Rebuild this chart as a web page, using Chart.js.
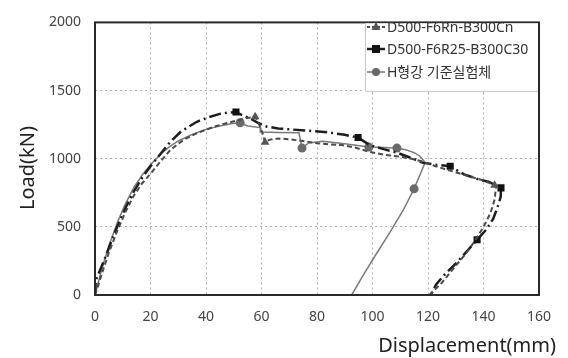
<!DOCTYPE html>
<html>
<head>
<meta charset="utf-8">
<script src="https://cdn.jsdelivr.net/npm/chart.js@4/dist/chart.umd.min.js"></script>
<style>
html,body{margin:0;padding:0;background:#fff;}
#wrap{position:relative;width:568px;height:358px;}
</style>
</head>
<body>
<div id="wrap"><canvas id="c" width="568" height="358"></canvas></div>
<script>
// ---- data ----
const xTicks = [0, 20, 40, 60, 80, 100, 120, 140, 160];
const yTicks = [0, 500, 1000, 1500, 2000];

const triLabel = 'D500-F6Rn-B300Cn';
const triX = [0,1,3,5,8,11,14,17,20,24, 27,30,33,36,39,43,47.6,51,54,57.7, 59,60.5,61.3,63,66,70,75,80,85,89, 94,99,104,110,114,118,122,126,130,135, 140,144,144.5,144,142.5,140,137,133.5,129,125, 120.5];
const triY = [0,60,190,310,470,610,730,820,890,990, 1060,1110,1150,1180,1205,1235,1262,1280,1295,1307, 1260,1180,1121,1140,1148,1143,1130,1114,1105,1100, 1080,1050,1030,1014,1000,979,950,925,900,870, 840,805,790,700,600,500,400,300,190,90, 0];
const triMarks = [19, 22, 41];

const sqLabel = 'D500-F6R25-B300C30';
const sqX = [0,0.3,2,4,6,8,11,14,17,20, 24,27,31,36.7,41,45,48,50.8,53,56, 59,62,66,71,78,84,90,94.8,99,104, 109,114,118,123,128,133,138,142,146.3,146.2, 145,143.5,141,137.7,134,130,126,123,121];
const sqY = [0,110,190,290,400,500,640,760,860,945, 1045,1121,1200,1271,1305,1329,1338,1343,1320,1295, 1260,1235,1222,1214,1203,1193,1175,1155,1100,1070, 1043,1005,971,955,945,885,850,830,786,720, 640,560,480,406,320,230,150,80,0];
const sqMarks = [17, 27, 34, 38, 43];

const ciLabel = 'H형강 기준실험체';
const ciX = [0,1,3,5,8,11,14,17,20,24, 27,30,35,40,45,49,52.3,55,59.5,59.6, 66,73.5,74.6,77,82,90,98.7,104,108.8,112, 115,117,118.5,118.7,117.5,115,111,106,101,96.5, 92.5];
const ciY = [0,80,230,360,530,670,790,880,955,1040, 1090,1130,1178,1215,1240,1257,1264,1240,1228,1195, 1192,1190,1078,1115,1128,1110,1085,1082,1078,1065, 1045,1020,985,960,900,779,620,450,290,140, 0];
const ciMarks = [16, 22, 26, 28, 35];

const xTitle = 'Displacement(mm)';
const yTitle = 'Load(kN)';

function pts(xs, ys) { return xs.map((x, i) => ({x: x, y: ys[i]})); }
function radiusFor(marks, r) { return ctx => marks.includes(ctx.dataIndex) ? r : 0; }

const FONT = "'Noto Sans','Noto Sans CJK KR',sans-serif";

const datasets = [
  {label: triLabel, data: pts(triX, triY), borderColor: '#4a4a4a', backgroundColor: '#555',
   borderWidth: 2, borderDash: [5, 3], pointStyle: 'triangle',
   pointRadius: radiusFor(triMarks, 5), pointBorderWidth: 0, pointHoverRadius: 0},
  {label: sqLabel, data: pts(sqX, sqY), borderColor: '#1e1e1e', backgroundColor: '#111',
   borderWidth: 2.5, borderDash: [12, 4, 2, 4], pointStyle: 'rect',
   pointRadius: radiusFor(sqMarks, 5), pointBorderWidth: 0, pointHoverRadius: 0},
  {label: ciLabel, data: pts(ciX, ciY), borderColor: '#7a7a7a', backgroundColor: '#6a6a6a',
   borderWidth: 1.5, borderDash: [], pointStyle: 'circle',
   pointRadius: radiusFor(ciMarks, 4.5), pointBorderWidth: 0, pointHoverRadius: 0}
];

const decor = {
  id: 'decor',
  afterDraw(chart) {
    const {ctx, chartArea: a} = chart;
    ctx.save();
    // frame
    ctx.strokeStyle = '#2a2a2a';
    ctx.lineWidth = 2;
    ctx.setLineDash([]);
    ctx.strokeRect(a.left, a.top, a.right - a.left, a.bottom - a.top);
    // legend box
    const lx = 365, ly = a.top + 1, lw = a.right - 1 - lx, lh = 68;
    ctx.fillStyle = '#fff';
    ctx.fillRect(lx, ly, lw, lh);
    ctx.strokeStyle = '#c8c8c8';
    ctx.lineWidth = 1;
    ctx.beginPath();
    ctx.moveTo(lx + 0.5, ly); ctx.lineTo(lx + 0.5, ly + lh);
    ctx.lineTo(a.right - 1, ly + lh);
    ctx.stroke();
    const rows = [27, 49, 72];
    chart.data.datasets.forEach((ds, i) => {
      const cy = rows[i];
      ctx.save();
      ctx.strokeStyle = ds.borderColor;
      ctx.lineWidth = ds.borderWidth;
      ctx.setLineDash(i === 0 ? [3, 2] : []);
      ctx.beginPath(); ctx.moveTo(367, cy); ctx.lineTo(385, cy); ctx.stroke();
      ctx.setLineDash([]);
      ctx.fillStyle = ds.backgroundColor;
      ctx.beginPath();
      if (ds.pointStyle === 'triangle') {
        ctx.moveTo(376, cy - 5); ctx.lineTo(380.5, cy + 3); ctx.lineTo(371.5, cy + 3); ctx.closePath();
      } else if (ds.pointStyle === 'rect') {
        ctx.rect(372, cy - 4, 8, 8);
      } else {
        ctx.arc(376, cy, 4, 0, Math.PI * 2);
      }
      ctx.fill();
      ctx.restore();
      ctx.fillStyle = '#333';
      ctx.font = "14px " + FONT;
      ctx.textBaseline = 'middle';
      ctx.textAlign = 'left';
      ctx.fillText(ds.label, 387, cy + 1);
    });
    // axis titles
    ctx.fillStyle = '#222';
    ctx.font = "20px " + FONT;
    ctx.textAlign = 'right';
    ctx.textBaseline = 'alphabetic';
    ctx.fillText(xTitle, 556, 352);
    ctx.save();
    ctx.translate(34, 168);
    ctx.rotate(-Math.PI / 2);
    ctx.textAlign = 'center';
    ctx.fillText(yTitle, 0, 0);
    ctx.restore();
    ctx.restore();
  }
};

new Chart(document.getElementById('c'), {
  type: 'scatter',
  data: {datasets: datasets},
  options: {
    responsive: false,
    animation: false,
    events: [],
    showLine: true,
    elements: {line: {tension: 0, fill: false}},
    layout: {padding: {top: 15, right: 29, left: 0, bottom: 0}},
    plugins: {legend: {display: false}, tooltip: {enabled: false}},
    scales: {
      x: {
        type: 'linear', min: 0, max: 160,
        afterBuildTicks: s => { s.ticks = xTicks.map(v => ({value: v})); },
        afterFit: s => { s.height = 63; },
        grid: {color: '#b0b0b0', lineWidth: 1, drawTicks: false},
        border: {display: false, dash: [2, 3]},
        ticks: {padding: 14, color: '#444', font: {family: FONT, size: 14}, maxRotation: 0,
                callback: v => String(v)}
      },
      y: {
        type: 'linear', min: 0, max: 2000,
        afterBuildTicks: s => { s.ticks = yTicks.map(v => ({value: v})); },
        afterFit: s => { s.width = 95; },
        grid: {color: '#b0b0b0', lineWidth: 1, drawTicks: false},
        border: {display: false, dash: [2, 3]},
        ticks: {padding: 14, color: '#444', font: {family: FONT, size: 14},
                callback: v => String(v)}
      }
    }
  },
  plugins: [decor]
});
</script>
</body>
</html>
